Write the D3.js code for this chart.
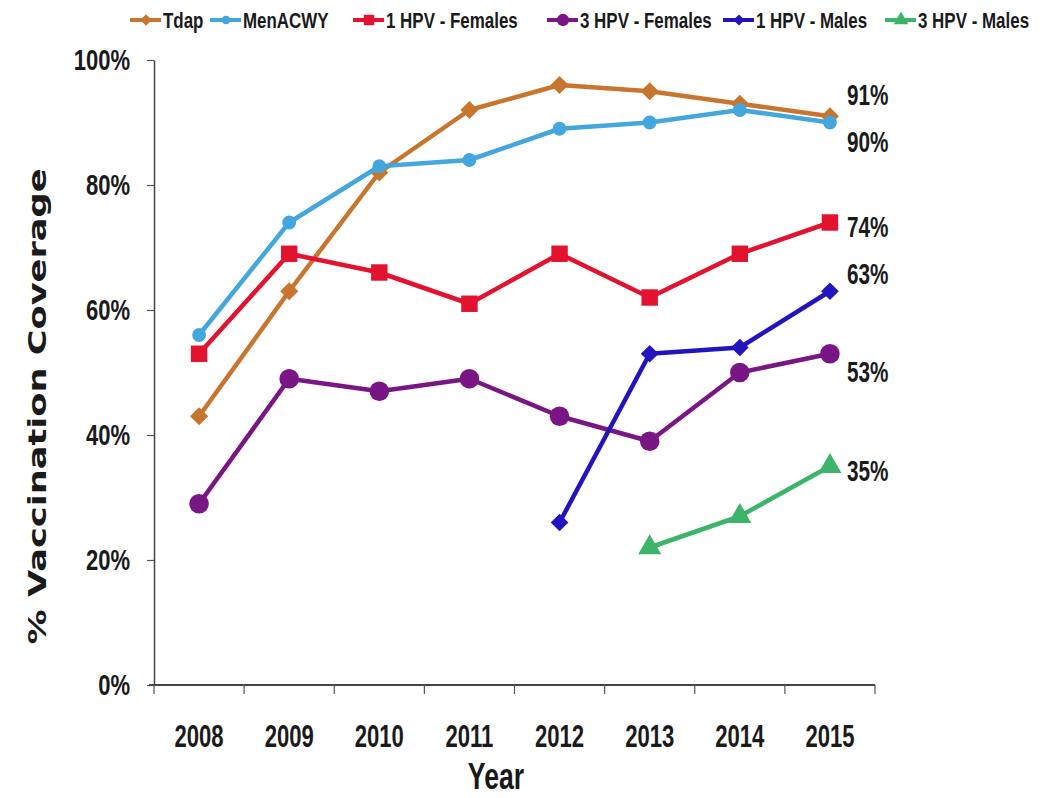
<!DOCTYPE html>
<html>
<head>
<meta charset="utf-8">
<script src="https://cdn.jsdelivr.net/npm/d3@7"></script>
<style>
  html, body { margin: 0; padding: 0; background: #fff; }
  svg { display: block; }
  text { fill: #1a1a1a; }
</style>
</head>
<body>
<svg id="chart" width="1048" height="798"></svg>
<script>
// Adolescent vaccination coverage, 2008–2015
const years = ["2008", "2009", "2010", "2011", "2012", "2013", "2014", "2015"];
const seriesNames = ["Tdap", "MenACWY", "1 HPV - Females", "3 HPV - Females", "1 HPV - Males", "3 HPV - Males"];

const tdap        = [43, 63, 82, 92, 96, 95, 93, 91];
const menacwy     = [56, 74, 83, 84, 89, 90, 92, 90];
const hpv1Females = [53, 69, 66, 61, 69, 62, 69, 74];
const hpv3Females = [29, 49, 47, 49, 43, 39, 50, 53];
const hpv1Males   = [null, null, null, null, 26, 53, 54, 63];
const hpv3Males   = [null, null, null, null, null, 22, 27, 35];

const yTicks = [0, 20, 40, 60, 80, 100];

// Drawing style per series
const styles = [
  { color: "#C8762D", symbol: d3.symbolDiamond2, size: 210, labelDy: -22 },
  { color: "#43A6DC", symbol: d3.symbolCircle,   size: 150, labelDy: 19 },
  { color: "#E3122E", symbol: d3.symbolSquare,   size: 270, labelDy: 4 },
  { color: "#7A1585", symbol: d3.symbolCircle,   size: 300, labelDy: 17 },
  { color: "#2214BE", symbol: d3.symbolDiamond2, size: 200, labelDy: -18 },
  { color: "#3CB46A", symbol: d3.symbolTriangle, size: 230, labelDy: 4 }
];

const allValues = [tdap, menacwy, hpv1Females, hpv3Females, hpv1Males, hpv3Males];
const series = seriesNames.map((name, i) => ({
  name,
  style: styles[i],
  points: years.map((y, j) => ({ year: y, value: allValues[i][j] })).filter(p => p.value !== null)
}));

const svg = d3.select("#chart");
const margin = { left: 154, right: 173, top: 60, bottom: 113 };
const W = 1048, H = 798;

const x = d3.scaleBand().domain(years).range([margin.left, W - margin.right]).padding(0);
const y = d3.scaleLinear().domain([0, 100]).range([H - margin.bottom, margin.top]);

const font = "'Liberation Sans', Arial, sans-serif";

// Squeeze text horizontally to get a tall, narrow bold face
function condense(sel, factor) {
  sel.each(function () {
    const len = this.getComputedTextLength();
    d3.select(this).attr("textLength", len * factor).attr("lengthAdjust", "spacingAndGlyphs");
  });
}

// Y axis
const yAxis = svg.append("g")
  .attr("transform", `translate(${margin.left},0)`)
  .call(d3.axisLeft(y).tickValues(yTicks).tickFormat(d => d + "%").tickSize(7).tickSizeOuter(0).tickPadding(17));
yAxis.select(".domain").attr("stroke", "#444").attr("stroke-width", 1.5);
yAxis.selectAll(".tick line").attr("stroke", "#555").attr("stroke-width", 1.2);
yAxis.selectAll(".tick text")
  .attr("font-family", font).attr("font-weight", "bold").attr("font-size", 29).attr("fill", "#1a1a1a")
  .call(condense, 0.76);

// X axis: boundary ticks between categories, labels centred in each band
const xAxis = svg.append("g")
  .attr("transform", `translate(0,${y(0)})`);
xAxis.append("line")
  .attr("x1", margin.left - 5).attr("x2", W - margin.right)
  .attr("stroke", "#444").attr("stroke-width", 2);
const bounds = years.map(d => x(d)).concat([x.range()[1]]);
xAxis.selectAll("line.tick").data(bounds).join("line")
  .attr("class", "tick")
  .attr("x1", d => d).attr("x2", d => d)
  .attr("y1", 0).attr("y2", 9)
  .attr("stroke", "#555").attr("stroke-width", 1.2);
xAxis.selectAll("text.lbl").data(years).join("text")
  .attr("class", "lbl")
  .attr("x", d => x(d) + x.bandwidth() / 2)
  .attr("y", 62)
  .attr("text-anchor", "middle")
  .attr("font-family", font).attr("font-weight", "bold").attr("font-size", 32)
  .text(d => d)
  .call(condense, 0.69);

// Axis titles
svg.append("text")
  .attr("transform", `translate(46,${(y(100) + y(0)) / 2 + 34}) rotate(-90)`)
  .attr("text-anchor", "middle")
  .attr("font-family", "'DejaVu Sans', Verdana, sans-serif").attr("font-weight", "bold").attr("font-size", 25)
  .attr("textLength", 476).attr("lengthAdjust", "spacingAndGlyphs")
  .text("% Vaccination Coverage");

svg.append("text")
  .attr("x", 496).attr("y", 789)
  .attr("text-anchor", "middle")
  .attr("font-family", font).attr("font-weight", "bold").attr("font-size", 37)
  .text("Year")
  .call(condense, 0.72);

// Lines and markers
const line = d3.line()
  .x(d => x(d.year) + x.bandwidth() / 2)
  .y(d => y(d.value));

const g = svg.append("g");
series.forEach(s => {
  const sg = g.append("g");
  sg.append("path")
    .datum(s.points)
    .attr("d", line)
    .attr("fill", "none")
    .attr("stroke", s.style.color)
    .attr("stroke-width", 4.5)
    .attr("stroke-linejoin", "round");
  sg.selectAll("path.mk").data(s.points).join("path")
    .attr("class", "mk")
    .attr("transform", d => `translate(${x(d.year) + x.bandwidth() / 2},${y(d.value)})`)
    .attr("d", d3.symbol().type(s.style.symbol).size(s.style.size))
    .attr("fill", s.style.color);
});

// End-of-line value labels (2015)
series.forEach(s => {
  const last = s.points[s.points.length - 1];
  svg.append("text")
    .attr("x", x(last.year) + x.bandwidth() / 2 + 17)
    .attr("y", y(last.value) + s.style.labelDy)
    .attr("dy", "0.36em")
    .attr("font-family", font).attr("font-weight", "bold").attr("font-size", 30)
    .text(last.value + "%")
    .call(condense, 0.69);
});

// Legend across the top (text narrowed with a horizontal scale)
const legend = svg.append("g").attr("transform", "translate(0,20)");
const legendX = [130, 210, 353, 547, 723, 885];
series.forEach((s, i) => {
  const lg = legend.append("g").attr("transform", `translate(${legendX[i]},0)`);
  lg.append("line").attr("x1", 0).attr("x2", 31)
    .attr("stroke", s.style.color).attr("stroke-width", 4);
  lg.append("path")
    .attr("transform", "translate(16,0)")
    .attr("d", d3.symbol().type(s.style.symbol).size(s.style.size * 0.4))
    .attr("fill", s.style.color);
  lg.append("text")
    .attr("transform", "translate(33,0) scale(0.77,1)")
    .attr("dy", "0.36em")
    .attr("font-family", font).attr("font-weight", "bold").attr("font-size", 22)
    .text(s.name);
});
</script>
</body>
</html>
